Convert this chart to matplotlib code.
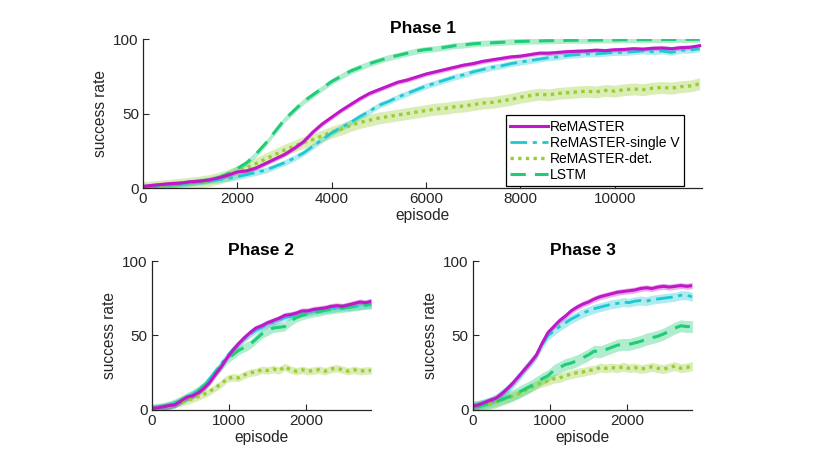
import numpy as np
import matplotlib
matplotlib.use('Agg')
import matplotlib.pyplot as plt

plt.rcParams['font.family'] = ['Liberation Sans', 'DejaVu Sans']

names = ['ReMASTER', 'ReMASTER-single V', 'ReMASTER-det.', 'LSTM']

# phase 1, every 200 episodes
ep1 = np.arange(0, 11801, 200)
p1_remaster = [1, 1.8, 2.4, 3, 3.3, 4.2, 4.6, 5.4, 6.8, 8.6,
               10.8, 11.5, 13.5, 16.5, 19.5, 22.5, 26.5, 31, 37.5, 43,
               47.5, 52, 56, 60, 63.5, 66, 68.5, 71, 72.5, 74.5,
               76.5, 78, 79.5, 81, 82.5, 83.5, 85, 86, 87, 88,
               88.5, 89.5, 90.5, 90.5, 91, 91.5, 91.8, 92, 92.5, 92.2,
               92.8, 93, 93.5, 93.2, 93.8, 94, 93.5, 94.2, 94.5, 95.5]
p1_single = [0.3, 1, 1.6, 2.2, 2.8, 3.5, 4, 4.8, 5.5, 6.5,
             7.5, 9, 10.5, 12, 14.5, 17, 20, 23.5, 28, 32.5,
             37, 40.5, 44, 48, 51.5, 55.5, 58, 61, 63.5, 66,
             68.5, 70.5, 72.5, 74.5, 76, 78, 79.5, 81, 82, 83.5,
             84.5, 85.5, 86.5, 87.5, 88, 89, 89.5, 90, 90, 90.5,
             91, 91, 91.5, 92, 91.5, 92, 91, 92.5, 92.5, 93.5]
p1_det = [0.3, 0.8, 1.4, 2, 2.6, 3.3, 4, 5, 6.5, 8.5,
          11, 13.5, 16.5, 19.5, 22.5, 25.5, 28, 30.5, 32.5, 35,
          37.5, 39.5, 42, 44, 45.5, 47, 48, 49, 50, 51,
          52, 53, 53.5, 54.5, 55, 56, 57, 57.5, 58.5, 59.5,
          61, 62, 63, 62.5, 63.5, 64, 64.5, 65, 64.5, 65.5,
          65, 66, 66.5, 66, 67, 67.5, 67, 68, 68.5, 70]
p1_lstm = [0.5, 1, 1.5, 2.2, 2.8, 3.5, 4.5, 5.5, 7, 9.5,
           13, 17, 23, 30, 38, 46, 52, 58, 62.5, 67,
           71.5, 75, 78.5, 81, 83.5, 85.5, 87.5, 89, 90.5, 92,
           93, 93.5, 94.5, 95.5, 96, 96.8, 97.2, 97.5, 97.8, 98.2,
           98.4, 98.6, 98.7, 98.9, 98.9, 99.1, 99.2, 99.2, 99.3, 99.4,
           99.4, 99.5, 99.5, 99.6, 99.6, 99.7, 99.7, 99.7, 99.8, 99.8]
p1_spread = [1.5, 2, 4, 2]

# phases 2 and 3, every 75 episodes
ep23 = np.arange(0, 2851, 75)
p2_remaster = [1, 1.5, 2.2, 3, 3.5, 6, 8.5, 9.5, 11.5, 14.5,
               18.5, 24, 29, 35, 40, 44.5, 48.5, 52, 55, 56.5,
               58.5, 60, 61.5, 63.5, 64, 65, 66.5, 66.5, 67.5, 68,
               68.5, 69.5, 70, 69.5, 70.5, 71.5, 72.5, 72, 73]
p2_single = [1, 1.5, 2.3, 3.2, 4.5, 6.5, 8.5, 10.5, 13, 16.5,
             21, 26, 31, 36, 40.5, 44.5, 48, 51, 53.5, 55.5,
             57.5, 59, 60.5, 62, 63, 64, 65, 65.5, 66.5, 67,
             67.5, 68, 68.5, 69, 69, 69.5, 70, 70.5, 70.5]
p2_det = [0.5, 1, 1.8, 2.8, 4, 5, 6, 7.5, 9, 10.5,
          12.5, 15, 17.5, 21, 22, 21.5, 23.5, 25, 25.5, 27,
          26.5, 27.5, 26.5, 29, 27, 26, 27, 26, 26.5, 27,
          26, 27.5, 28, 27, 26, 27, 26, 26.5, 26.5]
p2_lstm = [1, 1.5, 2, 3, 4.5, 6.5, 8.5, 10.5, 13, 16,
           20, 25, 29.5, 34, 37, 40, 42, 44, 47.5, 51,
           53, 55, 55.5, 56, 59.5, 62, 63.5, 64.5, 65.5, 66,
           67, 67.5, 68, 68.5, 69, 69.5, 70, 70.5, 71]
p2_spread = [2, 2.5, 2.5, 3]

p3_remaster = [2.5, 3.5, 5, 6.5, 8, 11, 14.5, 18.5, 23, 27.5,
               32, 37, 45, 52, 56, 60, 63, 66.5, 69, 71,
               72.5, 74.5, 76, 77, 78, 79, 79.5, 80, 80.5, 81.5,
               82, 81.5, 82.5, 83, 82.5, 83, 83.5, 83, 83.5]
p3_single = [2.5, 3.5, 4.5, 6, 8, 11, 14, 18, 22.5, 27.5,
             32, 37, 44, 50, 53, 56, 58.5, 61, 63, 65,
             66.5, 68, 69, 70, 71, 71.5, 72.5, 72, 73, 73.5,
             73, 74, 74.5, 75, 75.5, 76, 77, 77, 76]
p3_det = [2, 2.5, 3.5, 4.5, 5.5, 7, 8, 9.5, 11, 13,
          15, 17, 18.5, 19.5, 21, 21.5, 23, 24, 25, 25.5,
          26.5, 27, 28.5, 28, 28.5, 28, 29, 28, 28.5, 27.5,
          28, 29, 28, 27.5, 28.5, 29.5, 28, 28.5, 29.5]
p3_lstm = [2, 2.5, 3.5, 4.5, 5.5, 7, 8.5, 10, 12, 14,
           16, 18.5, 21, 23, 26.5, 28.5, 30.5, 31.5, 33, 35,
           37, 39.5, 39, 40.5, 42, 43.5, 44, 44, 45, 46,
           47.5, 48.5, 49.5, 51, 53, 55, 56.5, 56, 56]
p3_spread = [2, 3, 3, 4]

colors = ['#c018c8', '#1ec8d2', '#9acd32', '#1fcc77']
styles = [dict(linestyle='-', linewidth=2.2),
          dict(linestyle=(0, (6, 2, 1.5, 2)), linewidth=2),
          dict(linestyle=(0, (1, 1.3)), linewidth=2.4),
          dict(linestyle=(0, (5, 3)), linewidth=2.2)]

fig = plt.figure(figsize=(8.31, 4.67), dpi=100)
ax1 = fig.add_axes([0.1721, 0.5974, 0.6727, 0.319])
ax2 = fig.add_axes([0.1829, 0.1221, 0.2635, 0.319])
ax3 = fig.add_axes([0.5692, 0.1221, 0.2635, 0.319])

panels = [
    (ax1, ep1, [p1_remaster, p1_single, p1_det, p1_lstm], p1_spread, 'Phase 1', 11850, [0, 2000, 4000, 6000, 8000, 10000]),
    (ax2, ep23, [p2_remaster, p2_single, p2_det, p2_lstm], p2_spread, 'Phase 2', 2845, [0, 1000, 2000]),
    (ax3, ep23, [p3_remaster, p3_single, p3_det, p3_lstm], p3_spread, 'Phase 3', 2845, [0, 1000, 2000]),
]

for ax, x, series, spread, title, xmax, xt in panels:
    # draw order: det, single V, LSTM, ReMASTER on top
    for k in [2, 1, 3, 0]:
        y = np.array(series[k])
        ax.fill_between(x, y - spread[k], y + spread[k], color=colors[k],
                        alpha=0.35, linewidth=0)
    for k in [2, 1, 3, 0]:
        ax.plot(x, series[k], color=colors[k], label=names[k], **styles[k])
    ax.set_xlim(0, xmax)
    ax.set_ylim(0, 100)
    ax.set_xticks(xt)
    ax.set_yticks([0, 50, 100])
    ax.spines['top'].set_visible(False)
    ax.spines['right'].set_visible(False)
    for s in ['left', 'bottom']:
        ax.spines[s].set_linewidth(0.9)
        ax.spines[s].set_color('#262626')
    ax.tick_params(direction='in', length=4, width=0.8, labelsize=11,
                   colors='#262626', pad=3)
    ax.set_xlabel('episode', fontsize=11.2, color='#262626', labelpad=1)
    ax.set_ylabel('success rate', fontsize=11.2, color='#262626', labelpad=4)
    ax.set_title(title, fontsize=12.5, fontweight='bold', pad=4)

handles, labels = ax1.get_legend_handles_labels()
order = [labels.index(n) for n in names]
leg = ax1.legend([handles[i] for i in order], [labels[i] for i in order],
                 loc='lower right', bbox_to_anchor=(0.968, 0.013),
                 fontsize=10, handlelength=2.7, handletextpad=0.2,
                 labelspacing=0.15, borderpad=0.3, fancybox=False,
                 framealpha=1, edgecolor='black', borderaxespad=0)
leg.get_frame().set_linewidth(0.9)

plt.savefig('out.png', dpi=100)
